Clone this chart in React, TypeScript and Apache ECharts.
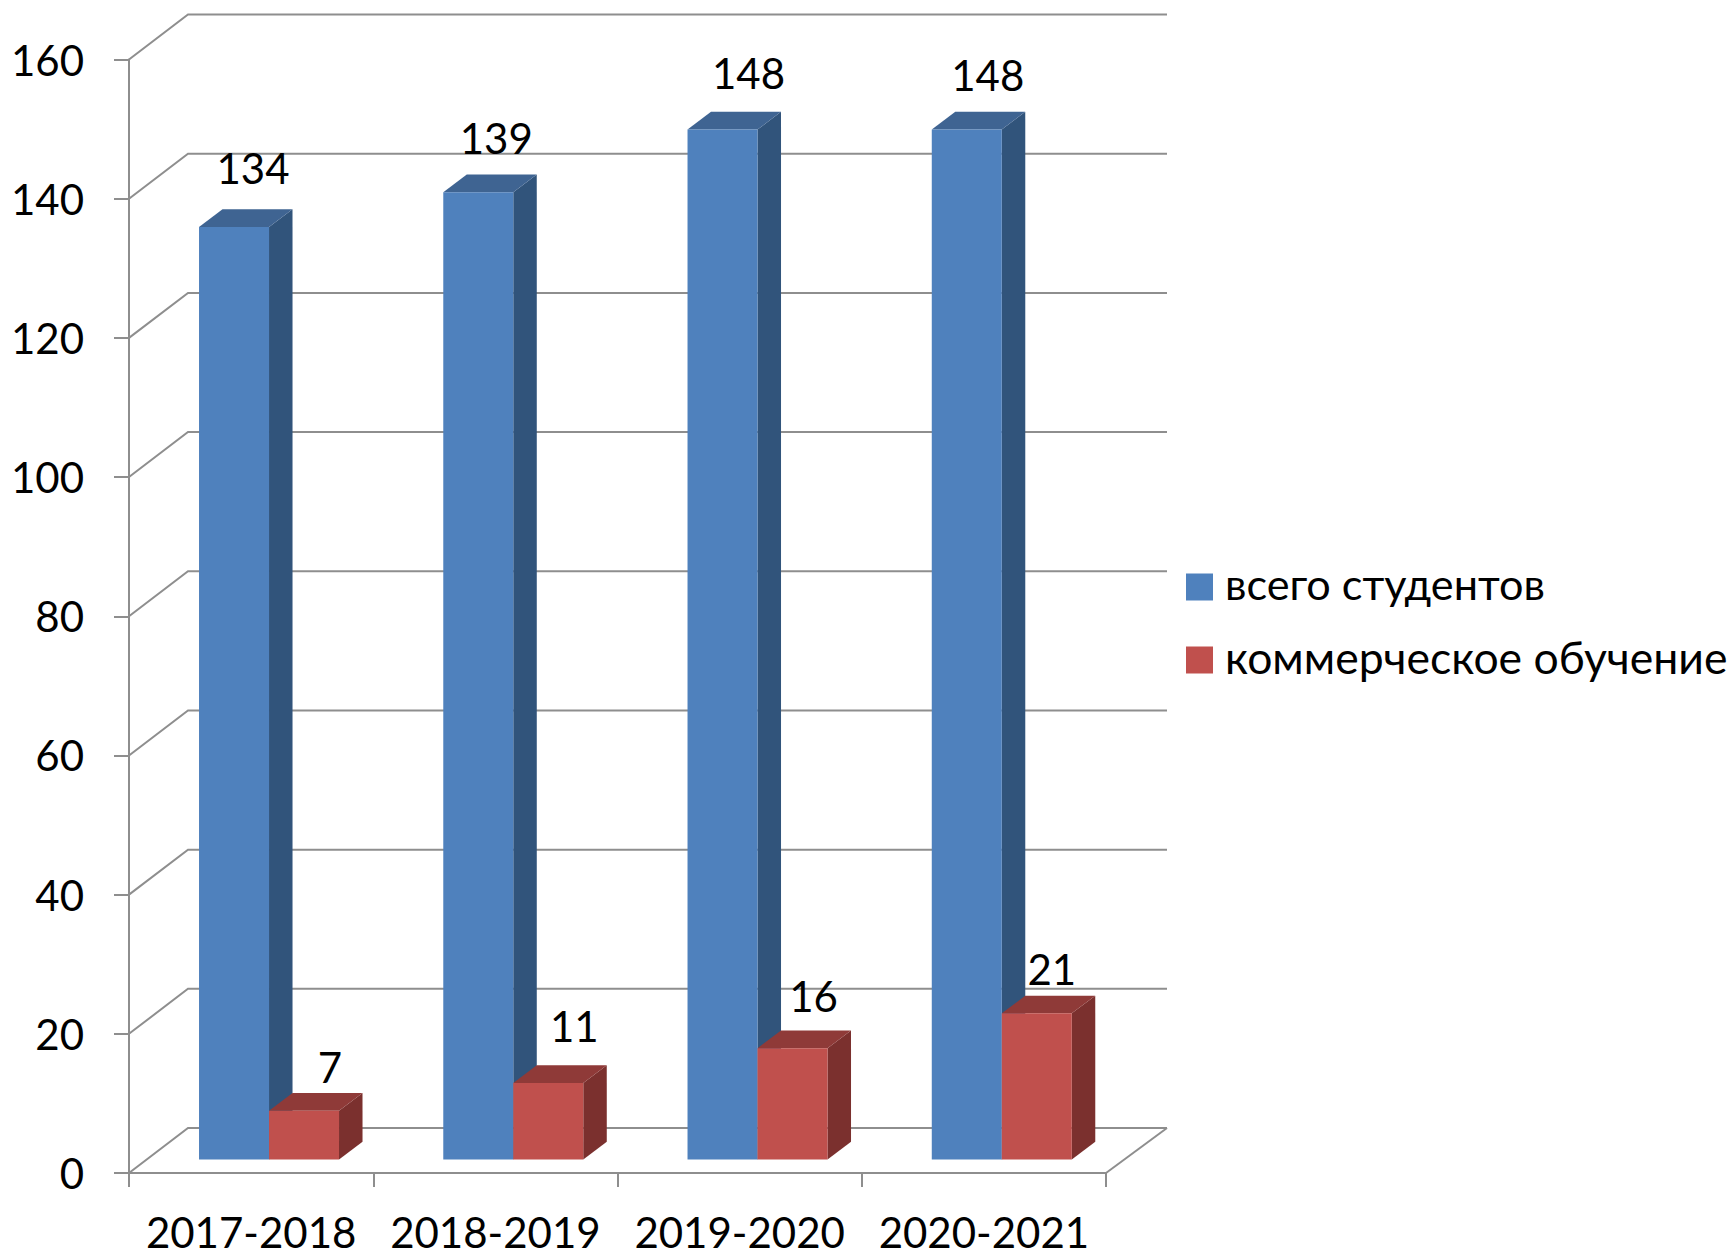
import React, { useEffect, useRef } from "react";
import * as echarts from "echarts";

const categories = ["2017-2018", "2018-2019", "2019-2020", "2020-2021"];
const totalStudents = [134, 139, 148, 148];
const commercial = [7, 11, 16, 21];
const yTicks = [0, 20, 40, 60, 80, 100, 120, 140, 160];
const totalName = "всего студентов";
const commercialName = "коммерческое обучение";

const totalLabelShift = [[19, -59], [18, -54], [26, -57], [21, -55]];
const commercialLabelShift = [[26, -44], [26, -57], [21, -52], [15, -44]];

const FONT = 'Lato, "Noto Sans", sans-serif';
const LINE = "#8e8e8e";
const LINE_W = 2;
const DEPTH_X = 23.5;
const DEPTH_Y = 17.7;
const FLOOR_X = 17.9;
const FLOOR_Y = 13.5;
const WALL_X = 59;
const WALL_Y = 45;

function barRenderer(side: number, front: string, top: string, dark: string, shifts: number[][]) {
  return (params: any, api: any) => {
    const idx = api.value(0);
    const v = api.value(1);
    const band = api.size([1, 0])[0];
    const w = band * 0.2866;
    const c = api.coord([idx, v]);
    const b = api.coord([idx, 0]);
    const x0 = c[0] + FLOOR_X + (side === 0 ? -w : 0);
    const x1 = x0 + w;
    const yt = c[1] - FLOOR_Y;
    const yb = b[1] - FLOOR_Y;
    const s = shifts[params.dataIndex];
    return {
      type: "group",
      children: [
        { type: "polygon", shape: { points: [[x1, yt], [x1 + DEPTH_X, yt - DEPTH_Y], [x1 + DEPTH_X, yb - DEPTH_Y], [x1, yb]] }, style: { fill: dark } },
        { type: "polygon", shape: { points: [[x0, yt], [x0 + DEPTH_X, yt - DEPTH_Y], [x1 + DEPTH_X, yt - DEPTH_Y], [x1, yt]] }, style: { fill: top } },
        { type: "rect", shape: { x: x0, y: yt, width: w, height: yb - yt }, style: { fill: front } },
        {
          type: "text",
          x: (x0 + x1) / 2 + s[0],
          y: yt + s[1],
          style: { text: String(v), fill: "#000", font: `42px ${FONT}`, align: "center", verticalAlign: "middle" },
        },
      ],
    };
  };
}

function wallRenderer(params: any, api: any) {
  const v = api.value(1);
  const cs = params.coordSys;
  const y = api.coord([0, v])[1];
  const xl = cs.x;
  const xr = cs.x + cs.width;
  const style = { stroke: LINE, lineWidth: LINE_W, fill: "none" };
  const children: any[] = [
    { type: "polyline", shape: { points: [[xl, y], [xl + WALL_X, y - WALL_Y], [xr + WALL_X + 2, y - WALL_Y]] }, style },
  ];
  if (v === 0) {
    children.push({ type: "line", shape: { x1: xr, y1: y, x2: xr + WALL_X + 2, y2: y - WALL_Y }, style });
  }
  return { type: "group", children };
}

export default function App() {
  const ref = useRef<HTMLDivElement>(null);
  useEffect(() => {
    const chart = echarts.init(ref.current!, undefined, { renderer: "svg" });
    chart.setOption({
      animation: false,
      backgroundColor: "#ffffff",
      grid: { left: 129, top: 59.5, width: 977, height: 1113.5, containLabel: false },
      legend: {
        orient: "vertical",
        left: 1186,
        top: 561.5,
        padding: 0,
        itemWidth: 27,
        itemHeight: 27,
        itemGap: 21,
        icon: "rect",
        selectedMode: false,
        data: [
          { name: totalName, itemStyle: { color: "#4F81BD" } },
          { name: commercialName, itemStyle: { color: "#C0504D" } },
        ],
        formatter: (name: string) => (name === totalName ? `{first|${name}}` : `{second|${name}}`),
        textStyle: {
          fontFamily: FONT,
          color: "#000",
          rich: {
            first: { fontFamily: FONT, fontSize: 43.2, color: "#000", lineHeight: 48, padding: [0, 0, 8, 7] },
            second: { fontFamily: FONT, fontSize: 44.5, color: "#000", lineHeight: 48, padding: [0, 0, 8, 7] },
          },
        },
      },
      xAxis: {
        type: "category",
        data: categories,
        axisLine: { show: true, lineStyle: { color: LINE, width: LINE_W } },
        axisTick: { show: true, length: 14, lineStyle: { color: LINE, width: LINE_W } },
        axisLabel: { color: "#000", fontFamily: FONT, fontSize: 42, margin: 38, interval: 0 },
        splitLine: { show: false },
      },
      yAxis: {
        type: "value",
        min: 0,
        max: 160,
        interval: 20,
        axisLine: { show: true, lineStyle: { color: LINE, width: LINE_W } },
        axisTick: { show: true, length: 15, lineStyle: { color: LINE, width: LINE_W } },
        axisLabel: { color: "#000", fontFamily: FONT, fontSize: 42, margin: 45 },
        splitLine: { show: false },
      },
      series: [
        {
          type: "custom",
          name: "wall",
          clip: false,
          silent: true,
          z: 1,
          encode: { x: 0, y: 1 },
          data: yTicks.map((t) => [0, t]),
          renderItem: wallRenderer,
        },
        {
          type: "custom",
          name: totalName,
          clip: false,
          z: 2,
          encode: { x: 0, y: 1 },
          itemStyle: { color: "#4F81BD" },
          data: totalStudents.map((v, i) => [i, v]),
          renderItem: barRenderer(0, "#4F81BD", "#3F6492", "#31547B", totalLabelShift),
        },
        {
          type: "custom",
          name: commercialName,
          clip: false,
          z: 3,
          encode: { x: 0, y: 1 },
          itemStyle: { color: "#C0504D" },
          data: commercial.map((v, i) => [i, v]),
          renderItem: barRenderer(1, "#C0504D", "#8F3A38", "#7B302E", commercialLabelShift),
        },
      ],
    });
    return () => chart.dispose();
  }, []);
  return <div ref={ref} style={{ position: "absolute", left: 0, top: 0, width: 1732, height: 1256 }} />;
}
